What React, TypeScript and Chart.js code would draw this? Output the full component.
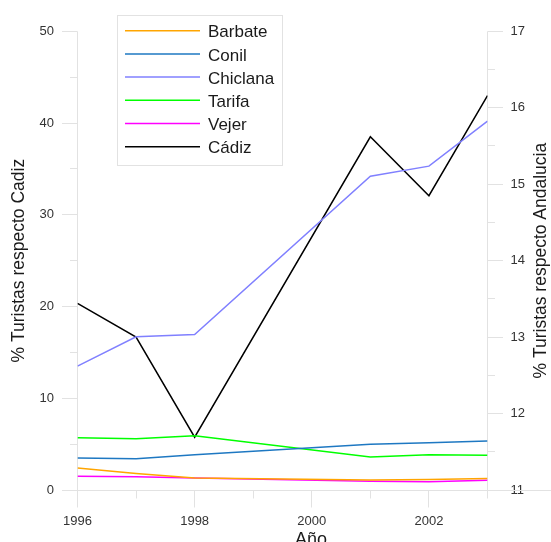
import React, { useEffect, useRef } from 'react';
import { Chart, registerables } from 'chart.js';

Chart.register(...registerables);

// ---- data ----
const years = [1996, 1997, 1998, 2001, 2002, 2003];
const barbate = [2.4, 1.8, 1.3, 1.1, 1.15, 1.25];
const conil = [3.5, 3.4, 3.85, 5.0, 5.15, 5.35];
const chiclana = [13.5, 16.7, 16.95, 34.2, 35.3, 40.2];
const tarifa = [5.7, 5.6, 5.9, 3.6, 3.85, 3.8];
const vejer = [1.5, 1.45, 1.3, 0.95, 0.9, 1.05];
const cadiz = [13.44, 13.0, 11.69, 15.62, 14.85, 16.16]; // right axis (% respecto Andalucia)

const seriesNames = ['Barbate', 'Conil', 'Chiclana', 'Tarifa', 'Vejer', 'Cádiz'];
const seriesColors = ['#FFA500', '#1E78C2', '#8080FF', '#00FF00', '#FF00FF', '#000000'];

const xTitle = 'Año';
const yTitle = '% Turistas respecto Cadiz';
const y1Title = '% Turistas respecto Andalucia';

const FONT = "'Liberation Sans', Arial, Helvetica, sans-serif";
const GRID = '#e2e2e2';
const TEXT = '#1a1a1a';

const crisp = (v: number) => Math.round(v - 0.5) + 0.5;

const axesDecor = {
  id: 'axesDecor',
  beforeDatasetsDraw(chart: any) {
    const { ctx, scales } = chart;
    const x = scales.x, y = scales.y, y1 = scales.y1;
    const xl = crisp(x.getPixelForValue(x.min));
    const xr = crisp(x.getPixelForValue(x.max));
    const yb = crisp(y.getPixelForValue(y.min));
    const yt = crisp(y.getPixelForValue(y.max));
    ctx.save();
    ctx.strokeStyle = GRID;
    ctx.lineWidth = 1;
    ctx.beginPath();
    // axis lines
    ctx.moveTo(xl, yt); ctx.lineTo(xl, yb);
    ctx.moveTo(xr, yt); ctx.lineTo(xr, yb);
    ctx.moveTo(xl - 15.5, yb); ctx.lineTo(chart.width, yb);
    // left ticks
    y.ticks.forEach((t: any) => {
      const p = crisp(y.getPixelForValue(t.value));
      const len = t.value % 10 === 0 ? 15.5 : 7.5;
      ctx.moveTo(xl - len, p); ctx.lineTo(xl, p);
    });
    // right ticks
    y1.ticks.forEach((t: any) => {
      const p = crisp(y1.getPixelForValue(t.value));
      const len = Number.isInteger(t.value) ? 15.5 : 7.5;
      ctx.moveTo(xr, p); ctx.lineTo(xr + len, p);
    });
    // bottom ticks
    x.ticks.forEach((t: any) => {
      const p = crisp(x.getPixelForValue(t.value));
      const len = t.value % 2 === 0 ? 17 : 8;
      ctx.moveTo(p, yb); ctx.lineTo(p, yb + len);
    });
    ctx.stroke();
    ctx.restore();
  },
  afterDraw(chart: any) {
    const { ctx, scales } = chart;
    const y = scales.y;
    const midY = (y.top + y.bottom) / 2;
    ctx.save();
    ctx.fillStyle = TEXT;
    ctx.font = `18px ${FONT}`;
    ctx.textAlign = 'center';
    ctx.textBaseline = 'alphabetic';
    ctx.fillText(xTitle, 311, 544.6);

    ctx.font = `17.5px ${FONT}`;
    ctx.textBaseline = 'middle';
    ctx.save();
    ctx.translate(19.4, midY);
    ctx.rotate(-Math.PI / 2);
    ctx.fillText(yTitle, 0, 0);
    ctx.restore();
    ctx.save();
    ctx.translate(541.4, midY);
    ctx.rotate(-Math.PI / 2);
    ctx.fillText(y1Title, 0, 0);
    ctx.restore();

    // legend
    const bx = 117.5, by = 15.5, bw = 165, bh = 150;
    ctx.fillStyle = '#ffffff';
    ctx.fillRect(bx, by, bw, bh);
    ctx.strokeStyle = GRID;
    ctx.lineWidth = 1;
    ctx.strokeRect(bx, by, bw, bh);
    ctx.font = `17px ${FONT}`;
    ctx.textAlign = 'left';
    ctx.textBaseline = 'alphabetic';
    chart.data.datasets.forEach((ds: any, i: number) => {
      const ry = 30.7 + i * 23.2;
      ctx.strokeStyle = ds.borderColor;
      ctx.lineWidth = 1.5;
      ctx.beginPath();
      ctx.moveTo(125, ry);
      ctx.lineTo(200, ry);
      ctx.stroke();
      ctx.fillStyle = TEXT;
      ctx.fillText(ds.label, 208, ry + 6.6);
    });
    ctx.restore();
  },
};

export default function App() {
  const ref = useRef<HTMLCanvasElement | null>(null);

  useEffect(() => {
    if (!ref.current) return;
    const series = [barbate, conil, chiclana, tarifa, vejer, cadiz];
    const datasets = series.map((vals, i) => ({
      label: seriesNames[i],
      data: years.map((yr, k) => ({ x: yr, y: vals[k] })),
      borderColor: seriesColors[i],
      backgroundColor: seriesColors[i],
      borderWidth: 1.5,
      pointRadius: 0,
      tension: 0,
      fill: false,
      yAxisID: i === 5 ? 'y1' : 'y',
    }));
    const tickFont = { family: FONT, size: 13 };
    const chart = new Chart(ref.current, {
      type: 'line',
      data: { datasets },
      plugins: [axesDecor],
      options: {
        animation: false,
        responsive: false,
        devicePixelRatio: 1,
        layout: { padding: { top: 21, left: 0, right: 0, bottom: 0 } },
        plugins: { legend: { display: false }, tooltip: { enabled: false } },
        scales: {
          x: {
            type: 'linear',
            min: 1996,
            max: 2003,
            grid: { display: false, drawTicks: false },
            border: { display: false },
            ticks: {
              stepSize: 1,
              autoSkip: false,
              maxRotation: 0,
              padding: 23.5,
              font: tickFont,
              color: '#333333',
              callback: (v: any) => (Number(v) % 2 === 0 ? String(v) : ''),
            },
            afterFit: (s: any) => { s.height = 52; },
          },
          y: {
            type: 'linear',
            position: 'left',
            min: 0,
            max: 50,
            grid: { display: false, drawTicks: false },
            border: { display: false },
            ticks: {
              stepSize: 5,
              autoSkip: false,
              padding: 23.5,
              font: tickFont,
              color: '#333333',
              callback: (v: any) => (Number(v) % 10 === 0 ? String(v) : ''),
            },
            afterFit: (s: any) => { s.width = 77.5; },
          },
          y1: {
            type: 'linear',
            position: 'right',
            min: 11,
            max: 17,
            grid: { display: false, drawTicks: false },
            border: { display: false },
            ticks: {
              stepSize: 0.5,
              autoSkip: false,
              padding: 23,
              font: tickFont,
              color: '#333333',
              callback: (v: any) => (Number.isInteger(Number(v)) ? String(v) : ''),
            },
            afterFit: (s: any) => { s.width = 63.5; },
          },
        },
      } as any,
    });
    return () => chart.destroy();
  }, []);

  return (
    <div style={{ position: 'absolute', left: 0, top: 0, width: 551, height: 542, background: '#ffffff' }}>
      <canvas ref={ref} width={551} height={542} style={{ display: 'block', width: 551, height: 542 }} />
    </div>
  );
}
